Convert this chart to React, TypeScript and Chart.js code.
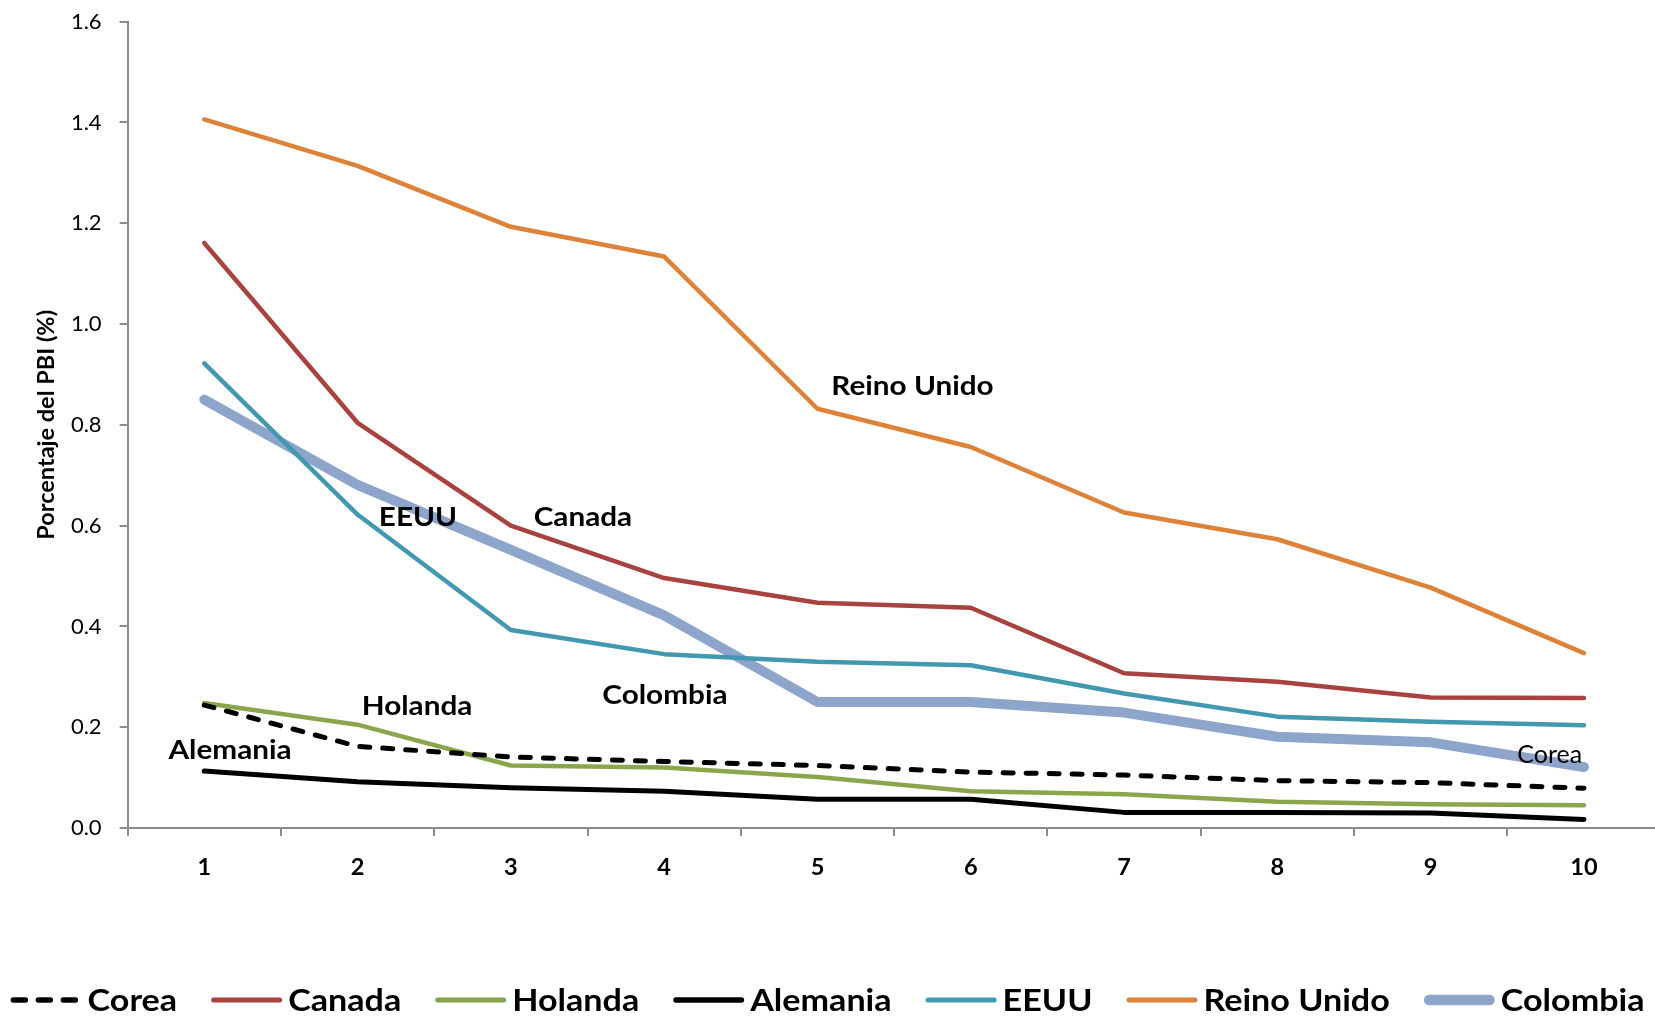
import React, { useEffect, useRef } from "react";
import { Chart, registerables } from "chart.js";

Chart.register(...registerables);

// ---------- data ----------
const categories = ["1", "2", "3", "4", "5", "6", "7", "8", "9", "10"];

const corea = [0.244, 0.162, 0.141, 0.132, 0.124, 0.111, 0.105, 0.094, 0.09, 0.079];
const canada = [1.161, 0.804, 0.6, 0.496, 0.447, 0.437, 0.307, 0.29, 0.259, 0.258];
const holanda = [0.248, 0.205, 0.124, 0.12, 0.101, 0.073, 0.067, 0.052, 0.047, 0.045];
const alemania = [0.113, 0.092, 0.08, 0.073, 0.057, 0.057, 0.031, 0.031, 0.03, 0.017];
const eeuu = [0.922, 0.622, 0.393, 0.345, 0.33, 0.323, 0.267, 0.221, 0.211, 0.204];
const reinoUnido = [1.406, 1.314, 1.193, 1.134, 0.832, 0.756, 0.626, 0.573, 0.477, 0.347];
const colombia = [0.85, 0.681, 0.552, 0.422, 0.25, 0.25, 0.229, 0.181, 0.17, 0.121];

const yMin = 0;
const yMax = 1.6;
const yStep = 0.2;
const yTitle = "Porcentaje del PBI (%)";

// in-chart series labels (category number, value at text baseline)
const lineLabels = [
  { text: "Reino Unido", cat: 5.62, value: 0.86, bold: true },
  { text: "Canada", cat: 3.47, value: 0.599, bold: true },
  { text: "EEUU", cat: 2.394, value: 0.599, bold: true },
  { text: "Colombia", cat: 4.005, value: 0.2456, bold: true },
  { text: "Holanda", cat: 2.388, value: 0.2234, bold: true },
  { text: "Alemania", cat: 1.168, value: 0.136, bold: true },
  { text: "Corea", cat: 9.777, value: 0.129, bold: false },
];

// ---------- layout ----------
const CW = 1670;
const CH = 1016;
const AREA_LEFT = 127.6;
const PAD_TOP = 21.7;
const AREA_RIGHT = 1660.6;
const X_AXIS_HEIGHT = 188.0;
const FONT = "Lato, 'Open Sans', sans-serif";
const AXIS_COLOR = "#8c8c8c";

function stretchedText(ctx: CanvasRenderingContext2D, text: string, x: number, y: number, sx: number, align: "left" | "center") {
  const w = ctx.measureText(text).width * sx;
  const left = align === "center" ? x - w / 2 : x;
  ctx.save();
  ctx.translate(left, y);
  ctx.scale(sx, 1);
  ctx.textAlign = "left";
  ctx.fillText(text, 0, 0);
  ctx.restore();
  return w;
}

const overlayPlugin = {
  id: "overlay",
  afterDatasetsDraw(chart: any) {
    const { ctx } = chart;
    const x = chart.scales.x;
    const y = chart.scales.y;
    ctx.save();
    ctx.fillStyle = "#000";
    ctx.textBaseline = "alphabetic";
    for (const a of lineLabels) {
      ctx.font = a.bold ? `bold 27.5px ${FONT}` : `24.5px ${FONT}`;
      stretchedText(ctx, a.text, x.getPixelForValue(a.cat - 1), y.getPixelForValue(a.value), a.bold ? 1.08 : 1.02, "center");
    }

    // legend
    let cx = 10.6;
    const lineY = 1000;
    const textY = 1011;
    const sample = 71;
    ctx.font = `bold 31px ${FONT}`;
    chart.data.datasets.forEach((ds: any) => {
      const lw = Math.max(5, ds.borderWidth + 0.5);
      ctx.save();
      ctx.strokeStyle = ds.borderColor;
      ctx.lineWidth = lw;
      ctx.lineCap = "round";
      ctx.setLineDash(ds.borderDash ? [12, 13] : []);
      ctx.beginPath();
      ctx.moveTo(cx + lw / 2, lineY);
      ctx.lineTo(cx + sample - lw / 2, lineY);
      ctx.stroke();
      ctx.restore();
      const tx = cx + sample + 6;
      ctx.fillStyle = "#000";
      const w = stretchedText(ctx, ds.label, tx, textY, 1.1, "left");
      cx = tx + w + 34;
    });
    ctx.restore();
  },
};

export default function App() {
  const ref = useRef<HTMLCanvasElement | null>(null);

  useEffect(() => {
    const canvas = ref.current;
    if (!canvas) return;
    const mk = (label: string, data: number[], color: string, width: number, dash?: number[]) => ({
      label,
      data,
      borderColor: color,
      backgroundColor: color,
      borderWidth: width,
      borderDash: dash,
      borderCapStyle: "round",
      borderJoinStyle: "round",
      pointRadius: 0,
      pointHoverRadius: 0,
      tension: 0,
      fill: false,
    });
    const chart = new Chart(canvas, {
      type: "line",
      data: {
        labels: categories,
        datasets: [
          mk("Corea", corea, "#000000", 5, [10, 13]),
          mk("Canada", canada, "#A8423F", 4.5),
          mk("Holanda", holanda, "#8AA64C", 4.5),
          mk("Alemania", alemania, "#000000", 5),
          mk("EEUU", eeuu, "#4198AF", 4.5),
          mk("Reino Unido", reinoUnido, "#DC8239", 4.5),
          mk("Colombia", colombia, "#8EA5CB", 10),
        ] as any,
      },
      options: {
        responsive: false,
        animation: false,
        devicePixelRatio: 1,
        layout: {
          autoPadding: false,
          padding: { left: 0, top: PAD_TOP, right: CW - AREA_RIGHT, bottom: 0 },
        },
        plugins: {
          legend: { display: false },
          tooltip: { enabled: false },
        },
        scales: {
          x: {
            type: "category",
            offset: true,
            grid: {
              offset: true,
              drawOnChartArea: false,
              drawTicks: true,
              tickLength: 8,
              color: AXIS_COLOR,
              lineWidth: 2,
            },
            border: { display: true, color: AXIS_COLOR, width: 2 },
            ticks: {
              font: { family: FONT, size: 23.5, weight: "bold" },
              color: "#000",
              padding: 17,
              maxRotation: 0,
              autoSkip: false,
            },
            afterFit: (s: any) => {
              s.height = X_AXIS_HEIGHT;
              s.paddingLeft = 0;
              s.paddingRight = 0;
            },
          },
          y: {
            min: yMin,
            max: yMax,
            ticks: {
              stepSize: yStep,
              callback: (v: any) => Number(v).toFixed(1),
              font: { family: FONT, size: 22 },
              color: "#000",
              padding: 18,
            },
            grid: {
              drawOnChartArea: false,
              drawTicks: true,
              tickLength: 8,
              color: AXIS_COLOR,
              lineWidth: 2,
            },
            border: { display: true, color: AXIS_COLOR, width: 2 },
            title: {
              display: true,
              text: yTitle,
              font: { family: FONT, size: 23.5, weight: "bold" },
              color: "#000",
              padding: { top: 32, bottom: 0 },
            },
            afterFit: (s: any) => {
              s.width = AREA_LEFT;
              s.paddingTop = 0;
              s.paddingBottom = 0;
            },
          },
        },
      } as any,
      plugins: [overlayPlugin],
    });
    return () => chart.destroy();
  }, []);

  return (
    <div
      style={{
        position: "fixed",
        left: 0,
        top: 0,
        width: "100vw",
        height: "100vh",
        overflow: "hidden",
        background: "#fff",
      }}
    >
      <canvas ref={ref} width={CW} height={CH} style={{ display: "block", width: CW, height: CH }} />
    </div>
  );
}
